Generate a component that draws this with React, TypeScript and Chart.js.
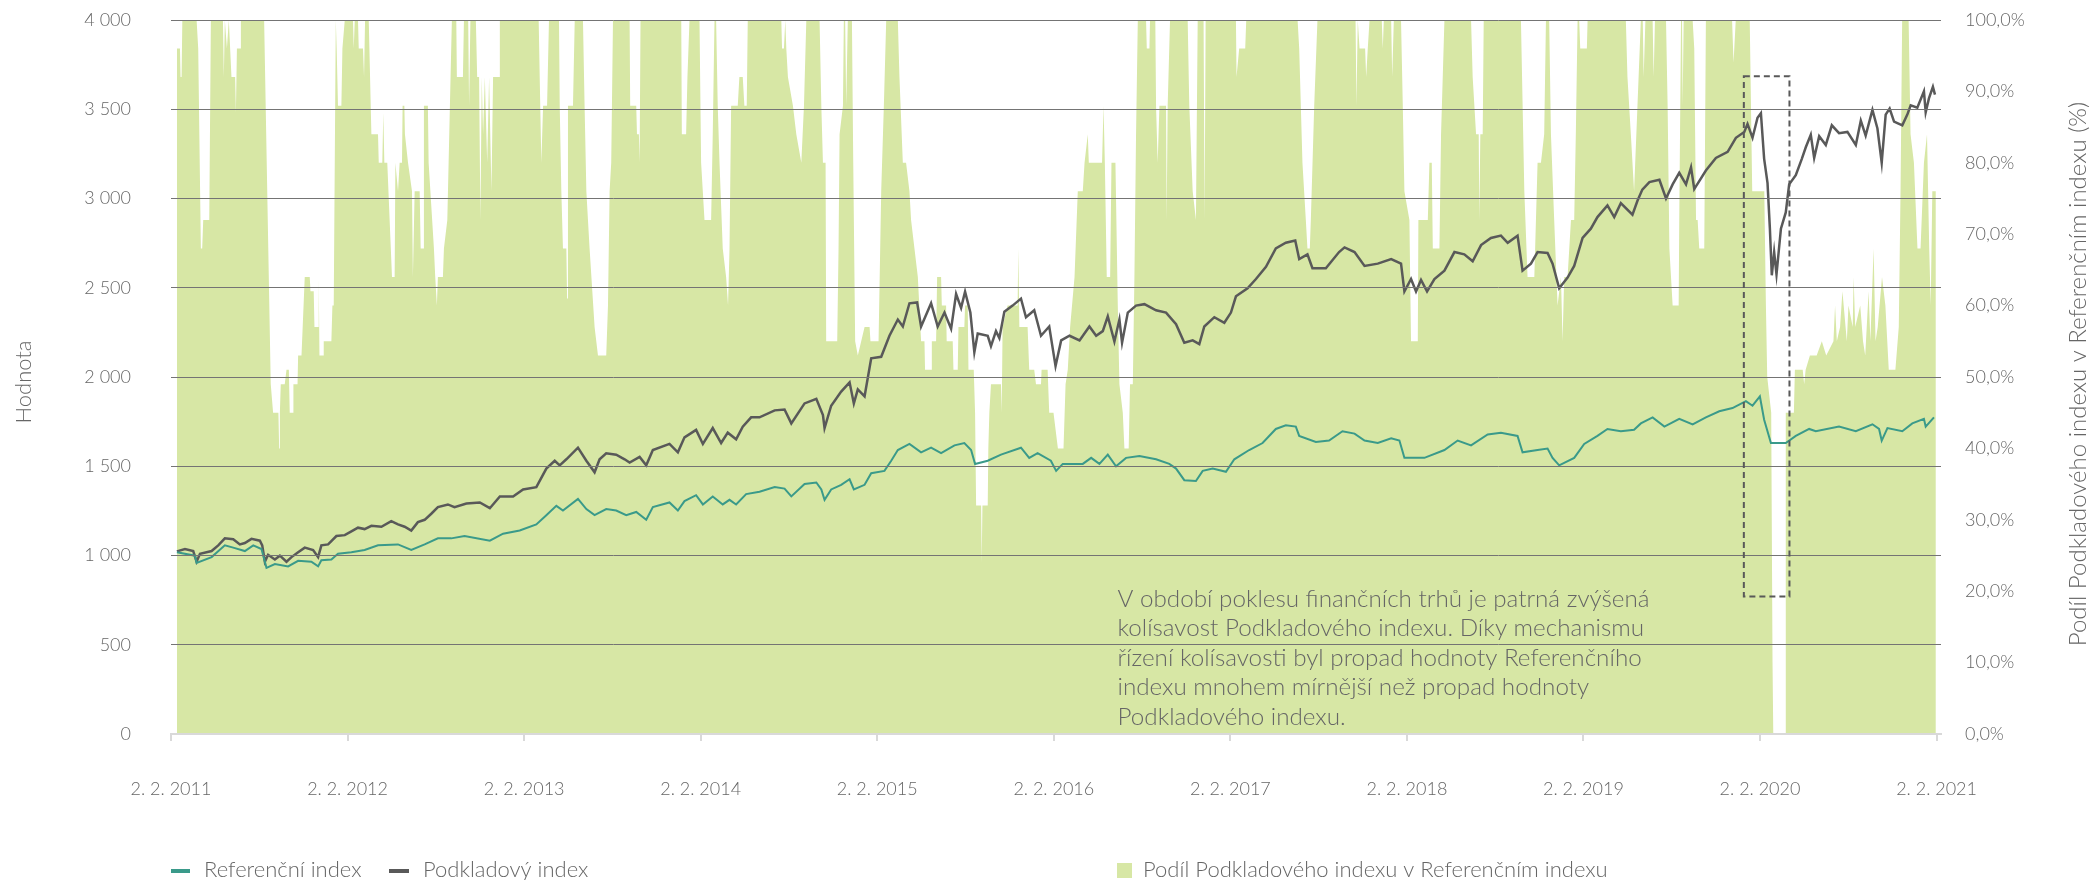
import React, { useEffect, useRef } from "react";
import { Chart, registerables } from "chart.js";

Chart.register(...registerables);

const FONT = "Lato, 'Open Sans', 'DejaVu Sans', sans-serif";
const TEXT = "#666666";
const GREEN = "#d7e7a5";
const TEAL = "#3a9a8a";
const DARK = "#595959";
const GRID = "#747474";
const AXIS = "#d9d9d9";

// x axis: months since 2. 2. 2011
const xTickMonths = [0, 12, 24, 36, 48, 60, 72, 84, 96, 108, 120];
const xTickLabels = [
  "2. 2. 2011", "2. 2. 2012", "2. 2. 2013", "2. 2. 2014", "2. 2. 2015", "2. 2. 2016",
  "2. 2. 2017", "2. 2. 2018", "2. 2. 2019", "2. 2. 2020", "2. 2. 2021",
];

const seriesNames = ["Referenční index", "Podkladový index", "Podíl Podkladového indexu v Referenčním indexu"];
const leftTitle = "Hodnota";
const rightTitle = "Podíl Podkladového indexu v Referenčním indexu (%)";

// Podkladový index (underlying)
const underlyingMonths = [
  0.4, 0.95, 1.51, 1.74, 1.97, 2.76, 3.21, 3.66, 4.23, 4.68, 5.02, 5.47, 6.04, 6.2, 6.38, 6.6, 7.06, 7.4, 7.85, 8.19,
  8.64, 9.09, 9.66, 10.0, 10.22, 10.68, 11.24, 11.81, 12.26, 12.71, 13.16, 13.62, 14.3, 14.97, 15.43, 15.88, 16.33, 16.78, 17.24, 17.69,
  18.14, 18.82, 19.27,
  20.08, 20.99, 21.67, 22.35, 23.25, 23.93, 24.83, 25.51, 26.08, 26.42, 26.87, 27.66, 28.23, 28.79, 29.13, 29.58, 30.26, 30.83, 31.17, 31.85,
  32.3, 32.75, 33.88, 34.45, 34.9, 35.69, 36.15, 36.82, 37.39, 37.84, 38.41, 38.86, 39.43,
  40.0, 41.03, 41.7, 42.16, 43.06, 43.86, 44.31, 44.42, 44.87, 45.55, 46.12, 46.41, 46.68, 47.14, 47.59, 48.27, 48.83, 49.4, 49.74, 50.19,
  50.71, 50.98, 51.66, 52.11, 52.57, 53.02, 53.36, 53.7, 53.97, 54.33, 54.6, 54.83, 55.51, 55.73, 56.07, 56.3, 56.64, 57.2, 57.77, 58.11,
  58.67, 59.13, 59.69,
  60.12, 60.5, 61.07, 61.75, 62.42, 62.88, 63.33, 63.67, 64.12, 64.46, 64.64, 65.03, 65.59, 66.16, 66.95, 67.63, 68.31, 68.87, 69.44, 69.89,
  70.23, 70.91, 71.59, 72.04, 72.38, 73.17, 73.74, 74.42, 75.09, 75.77, 76.41, 76.68, 77.24, 77.58, 78.49, 79.39,
  79.76, 80.44, 81.12, 82.02, 82.93, 83.6, 83.83, 84.28, 84.62, 84.96, 85.37, 85.87, 86.55, 87.23, 87.9, 88.47, 89.04, 89.71, 90.39, 90.85,
  91.52, 91.86, 92.43, 92.88, 93.56, 93.9, 94.35, 94.92, 95.37, 95.94, 96.5, 96.95, 97.63, 98.09, 98.54, 99.33, 99.67,
  100.0, 100.48, 101.16, 101.61, 102.06, 102.51, 102.97, 103.31, 103.53, 104.32, 105.0, 105.8, 106.36, 106.93, 107.15, 107.49, 107.83, 108.06, 108.28, 108.51,
  108.67, 108.8, 108.96, 109.12, 109.42, 109.75, 109.98, 110.43, 110.84, 111.11, 111.45, 111.68, 112.02, 112.47, 112.88, 113.37, 113.94, 114.51, 114.85, 115.18,
  115.64, 115.98, 116.27, 116.54, 116.81, 117.11, 117.67, 118.01, 118.24, 118.69, 119.14, 119.26, 119.48, 119.75, 119.89,
];
const underlyingValues = [
  1023, 1036, 1025, 965, 1010, 1025, 1057, 1096, 1091, 1062, 1070, 1093, 1083, 1057, 965, 1004, 978, 999, 965, 991,
  1018, 1044, 1031, 991, 1057, 1062, 1109, 1114, 1135, 1156, 1148, 1166, 1161, 1192, 1174, 1161, 1140, 1187, 1200, 1234,
  1271, 1286, 1271,
  1291, 1297, 1265, 1331, 1331, 1370, 1383, 1487, 1531, 1505, 1539, 1604, 1531, 1466, 1539, 1573, 1565, 1539, 1521, 1552,
  1505, 1591, 1625, 1578, 1662, 1704, 1625, 1714, 1630, 1688, 1651, 1722, 1774,
  1774, 1813, 1818, 1740, 1852, 1878, 1787, 1714, 1839, 1918, 1970, 1852, 1931, 1892, 2105, 2113, 2231, 2322, 2283, 2413,
  2418, 2283, 2413, 2283, 2361, 2270, 2465, 2387, 2478, 2361, 2139, 2244, 2231, 2173, 2257, 2218, 2366, 2400, 2439, 2335,
  2374, 2231, 2283,
  2061, 2205, 2231, 2205, 2283, 2231, 2257, 2340, 2199, 2322, 2192, 2361, 2400, 2408, 2374, 2361, 2296, 2192, 2205, 2184,
  2283, 2335, 2304, 2361, 2452, 2497, 2549, 2617, 2721, 2752, 2765, 2661, 2687, 2609, 2609, 2700,
  2726, 2700, 2622, 2635, 2661, 2635, 2479, 2549, 2479, 2544, 2479, 2549, 2596, 2700, 2687, 2648, 2739, 2779, 2792, 2752,
  2792, 2596, 2635, 2700, 2695, 2635, 2497, 2557, 2622, 2779, 2831, 2896, 2961, 2896, 2974, 2909, 2987,
  3050, 3092, 3105, 3000, 3079, 3144, 3079, 3175, 3053, 3157, 3227, 3261, 3340, 3373, 3418, 3340, 3452, 3478, 3222, 3086,
  2831, 2570, 2700, 2575, 2831, 2922, 3079, 3131, 3222, 3287, 3357, 3227, 3349, 3300, 3410, 3366, 3373, 3300, 3436, 3352,
  3496, 3392, 3201, 3470, 3504, 3431, 3410, 3470, 3522, 3509, 3600, 3483, 3561, 3626, 3582,
];

// Referenční index (reference)
const referenceMonths = [
  0.4, 1.63, 1.74, 2.76, 3.66, 4.23, 5.02, 5.59, 6.15, 6.49, 7.06, 7.96, 8.64, 9.54, 10.0, 10.22, 10.9, 11.35, 12.26, 13.16,
  14.07, 15.43, 16.33, 17.24, 18.14, 19.05, 19.95,
  21.67, 22.57, 23.7, 24.83, 25.51, 26.19, 26.64, 27.66, 28.23, 28.79, 29.58, 30.26, 30.94, 31.62, 32.3, 32.75, 33.88, 34.45, 34.9, 35.69,
  36.15, 36.82, 37.5, 37.96, 38.41, 39.09, 40.0,
  41.03, 41.7, 42.16, 43.06, 43.86, 44.2, 44.42, 44.87, 45.55, 46.12, 46.41, 47.14, 47.59, 48.49, 48.95, 49.4, 50.19, 50.98, 51.66, 52.34,
  53.25, 53.92, 54.38, 54.65, 55.51, 56.41, 57.77, 58.33, 58.9, 59.8,
  60.16, 60.61, 61.97, 62.54, 63.1, 63.67, 64.23, 64.91, 65.82, 66.95, 67.85, 68.31, 68.87, 69.66, 70.12, 70.8, 71.7, 72.27, 73.28, 74.19,
  75.09, 75.77, 76.45, 76.68, 77.81, 78.71, 79.62,
  80.44, 81.12, 82.02, 82.93, 83.49, 83.83, 85.19, 86.55, 87.45, 88.36, 89.49, 90.39, 91.52, 91.86, 92.88, 93.56, 93.9, 94.35, 95.37, 96.05,
  96.95, 97.63, 98.54, 99.44,
  99.9, 100.7, 101.5, 102.51, 103.42, 104.32, 105.23, 106.13, 107.04, 107.49, 107.99, 108.28, 108.74, 109.75, 110.43, 111.34, 111.79, 113.37, 114.51, 115.64,
  116.09, 116.27, 116.66, 117.67, 118.35, 119.14, 119.26, 119.82,
];
const referenceValues = [
  1018, 999, 958, 991, 1057, 1044, 1025, 1057, 1036, 931, 952, 939, 970, 965, 939, 973, 978, 1010, 1018, 1031,
  1057, 1062, 1031, 1062, 1096, 1096, 1109,
  1083, 1122, 1140, 1174, 1226, 1278, 1252, 1317, 1260, 1226, 1260, 1252, 1226, 1244, 1200, 1271, 1297, 1252, 1305, 1338,
  1286, 1331, 1286, 1312, 1286, 1344, 1357,
  1383, 1375, 1331, 1401, 1409, 1370, 1312, 1370, 1396, 1427, 1370, 1396, 1461, 1474, 1531, 1591, 1625, 1578, 1604, 1573,
  1617, 1630, 1591, 1513, 1531, 1565, 1604, 1547, 1573, 1531,
  1474, 1513, 1513, 1547, 1513, 1565, 1500, 1547, 1557, 1539, 1513, 1487, 1422, 1417, 1474, 1487, 1469, 1539, 1591, 1630,
  1709, 1730, 1722, 1670, 1636, 1644, 1696,
  1683, 1644, 1630, 1657, 1644, 1547, 1547, 1591, 1644, 1617, 1678, 1688, 1670, 1578, 1591, 1599, 1547, 1505, 1547, 1625,
  1670, 1709, 1696, 1704,
  1740, 1774, 1722, 1766, 1735, 1774, 1808, 1826, 1865, 1839, 1891, 1761, 1630, 1630, 1670, 1709, 1696, 1722, 1696, 1735,
  1709, 1644, 1714, 1696, 1740, 1766, 1722, 1774,
];

// Podíl Podkladového indexu v Referenčním indexu: [month, percent]
const shareBreakpoints: [number, number][] = [
  [0.4, 96], [0.61, 96], [0.65, 92], [0.72, 92], [0.77, 100], [1.74, 100], [1.85, 96], [2.03, 68], [2.12, 68], [2.19, 72],
  [2.6, 72], [2.71, 100], [3.53, 100], [3.59, 92], [3.66, 100], [3.8, 96], [3.93, 100], [4.11, 92], [4.36, 92], [4.41, 87],
  [4.48, 96], [4.7, 96], [4.75, 100], [6.33, 100], [6.78, 49], [6.94, 45], [7.3, 45], [7.35, 40], [7.4, 45], [7.46, 49],
  [7.73, 49], [7.85, 51], [8.01, 51], [8.07, 45], [8.3, 45], [8.32, 49], [8.6, 49], [8.64, 53], [8.87, 53], [9.09, 64],
  [9.43, 64], [9.48, 62], [9.7, 62], [9.75, 57], [10.0, 57], [10.04, 64], [10.09, 53], [10.34, 53], [10.38, 55], [10.9, 55],
  [10.97, 60], [11.06, 60], [11.2, 100], [11.26, 96], [11.35, 88], [11.58, 88], [11.65, 96], [11.81, 100], [12.37, 100], [12.42, 96],
  [12.49, 100], [12.71, 100], [12.76, 96], [13.05, 96], [13.12, 92], [13.19, 100], [13.44, 100], [13.62, 84], [14.07, 84], [14.12, 80],
  [14.36, 80], [14.43, 87], [14.5, 80], [14.7, 80], [15.02, 64], [15.2, 64], [15.25, 80], [15.43, 76], [15.54, 80], [15.7, 80],
  [15.74, 88], [15.86, 88], [15.9, 84], [16.11, 80], [16.38, 76], [16.44, 64], [16.56, 76], [16.9, 76], [16.97, 68], [17.15, 68],
  [17.19, 88], [17.46, 88], [17.51, 80], [17.87, 68], [17.96, 64], [18.07, 60], [18.14, 64], [18.48, 64], [18.55, 68], [18.78, 72],
  [19.0, 92], [19.09, 100], [19.39, 100], [19.43, 92], [19.84, 92], [19.91, 100],
  [20.2, 100], [20.26, 88], [20.35, 100], [20.72, 100], [20.81, 92], [20.94, 92], [21.03, 72], [21.12, 92], [21.21, 84], [21.33, 92],
  [21.49, 80], [21.62, 92], [21.78, 76], [21.89, 92], [22.3, 92], [22.35, 100], [24.99, 100], [25.06, 92], [25.17, 80], [25.29, 88],
  [25.56, 88], [25.69, 100], [26.37, 100], [26.42, 88], [26.53, 76], [26.64, 68], [26.87, 68], [26.92, 61], [26.98, 88], [27.32, 88],
  [27.44, 100], [28.0, 100], [28.11, 88], [28.23, 76], [28.34, 72], [28.45, 68], [28.79, 57], [29.02, 53], [29.58, 53], [29.7, 60],
  [29.81, 76], [29.92, 80], [30.04, 100], [31.17, 100], [31.21, 88], [31.62, 88], [31.67, 84], [31.8, 84], [31.85, 80], [31.91, 100],
  [34.68, 100], [34.72, 84], [35.01, 84], [35.1, 92], [35.24, 100], [35.92, 100], [36.03, 80], [36.26, 72], [36.71, 72], [36.82, 84],
  [36.94, 100], [37.05, 100], [37.16, 88], [37.28, 80], [37.5, 68], [37.73, 64], [37.86, 60], [37.96, 68], [38.07, 88], [38.52, 88],
  [38.63, 92], [38.86, 92], [38.97, 88], [39.13, 88], [39.2, 100],
  [41.48, 100], [41.53, 96], [41.66, 96], [41.75, 100], [41.82, 96], [41.93, 92], [42.27, 88], [42.5, 84], [42.84, 80], [43.02, 88],
  [43.18, 100], [44.08, 100], [44.2, 88], [44.31, 80], [44.49, 80], [44.53, 55], [45.28, 55], [45.37, 68], [45.44, 84], [45.67, 88],
  [45.73, 100], [45.82, 100], [45.89, 88], [46.0, 100], [46.28, 100], [46.37, 80], [46.5, 55], [46.68, 53], [46.91, 55], [47.14, 57],
  [47.48, 57], [47.54, 55], [48.09, 55], [48.27, 76], [48.45, 88], [48.61, 100], [49.4, 100], [49.51, 92], [49.74, 80], [49.96, 80],
  [50.19, 76], [50.3, 72], [50.53, 68], [50.76, 64], [50.98, 55], [51.21, 55], [51.25, 51], [51.66, 51], [51.71, 55], [52.0, 55],
  [52.07, 64], [52.34, 64], [52.39, 60], [52.68, 60], [52.72, 55], [53.13, 55], [53.18, 51], [53.47, 51], [53.52, 57], [53.92, 57],
  [53.97, 60], [54.15, 60], [54.2, 51], [54.56, 51], [54.65, 45], [54.72, 32], [55.06, 32], [55.1, 24], [55.15, 32], [55.51, 32],
  [55.55, 40], [55.62, 45], [55.73, 49], [56.41, 49], [56.46, 45], [56.52, 57], [56.86, 60], [57.54, 60], [57.59, 68], [57.66, 57],
  [58.22, 57], [58.33, 51], [58.67, 51], [58.79, 49], [59.13, 49], [59.17, 51], [59.58, 51], [59.69, 45],
  [59.98, 45], [60.28, 40], [60.66, 40], [60.8, 49], [60.95, 51], [61.11, 57], [61.41, 64], [61.63, 76], [61.97, 76], [62.09, 80],
  [62.31, 84], [62.38, 80], [63.28, 80], [63.38, 88], [63.47, 80], [63.6, 64], [63.83, 64], [63.92, 80], [64.19, 80], [64.35, 60],
  [64.46, 49], [64.69, 45], [64.8, 40], [65.09, 40], [65.18, 49], [65.37, 49], [65.48, 64], [65.59, 84], [65.71, 100], [66.27, 100],
  [66.32, 96], [66.5, 96], [66.54, 100], [66.9, 100], [66.95, 88], [67.06, 80], [67.18, 88], [67.63, 88], [67.67, 72], [67.74, 88],
  [67.9, 100], [69.1, 100], [69.21, 88], [69.44, 76], [69.66, 72], [69.78, 100], [70.18, 100], [70.25, 72], [70.32, 100], [72.38, 100],
  [72.42, 92], [72.6, 96], [73.01, 96], [73.08, 100], [76.57, 100], [76.68, 96], [76.9, 80], [77.13, 72], [77.24, 68], [77.4, 68],
  [77.47, 72], [77.7, 88], [77.92, 100],
  [80.51, 100], [80.57, 88], [80.66, 100], [80.78, 96], [81.16, 96], [81.23, 92], [81.34, 96], [81.46, 100], [82.29, 100], [82.36, 96],
  [82.43, 100], [82.93, 100], [83.0, 92], [83.11, 100], [83.6, 100], [83.72, 88], [83.83, 76], [84.17, 72], [84.28, 55], [84.74, 55],
  [84.78, 72], [85.42, 72], [85.53, 80], [85.69, 80], [85.76, 68], [86.21, 68], [86.32, 84], [86.55, 100], [88.36, 100], [88.47, 92],
  [88.7, 84], [88.88, 84], [88.92, 72], [88.99, 84], [89.15, 84], [89.22, 100], [91.75, 100], [91.98, 76], [92.2, 64], [92.66, 64],
  [92.77, 72], [92.88, 80], [93.11, 80], [93.33, 84], [93.45, 100], [93.67, 100], [93.79, 84], [94.01, 72], [94.24, 60], [94.47, 64],
  [94.58, 55], [94.69, 64], [94.92, 64], [95.15, 72], [95.37, 72], [95.48, 84], [95.6, 100], [95.71, 100], [95.78, 96], [96.23, 96],
  [96.28, 100], [98.88, 100], [98.99, 92], [99.22, 84], [99.44, 76], [99.67, 88], [99.9, 100],
  [100.03, 100], [100.09, 92], [100.21, 100], [100.7, 100], [100.77, 92], [100.86, 100], [101.61, 100], [101.72, 88], [101.84, 68], [102.06, 60],
  [102.47, 60], [102.51, 72], [102.63, 100], [102.7, 100], [102.74, 88], [102.81, 100], [103.42, 100], [103.53, 96], [103.65, 72], [103.76, 72],
  [103.87, 68], [104.21, 68], [104.32, 100], [106.1, 100], [106.2, 94], [106.35, 100], [107.3, 100], [107.47, 76], [108.29, 76], [108.4, 60],
  [108.49, 50], [108.76, 45], [108.85, 10], [108.9, 0], [109.72, 0], [109.75, 45], [110.3, 45], [110.37, 51], [110.9, 51], [111.0, 49],
  [111.1, 51], [111.39, 53], [111.85, 53], [112.2, 55], [112.5, 53], [112.99, 55], [113.1, 60], [113.22, 55], [113.44, 57], [113.6, 62],
  [113.9, 55], [114.01, 60], [114.3, 57], [114.36, 64], [114.47, 57], [114.81, 60], [115.0, 55], [115.15, 53], [115.38, 62], [115.5, 55],
  [115.72, 68], [115.85, 55], [116.0, 57], [116.29, 64], [116.52, 60], [116.75, 51], [117.2, 51], [117.43, 57], [117.55, 76], [117.66, 100],
  [118.1, 100], [118.23, 84], [118.46, 80], [118.7, 68], [118.91, 68], [119.14, 80], [119.35, 84], [119.5, 68], [119.6, 60], [119.71, 76],
  [119.95, 76],
];

// annotation content (data coordinates)
const highlightBox = { fromMonth: 106.9, toMonth: 110.0, topValue: 3685, bottomValue: 770 };
const noteAnchor = { month: 64.33, value: 757 };
const noteLines = [
  "V období poklesu finančních trhů je patrná zvýšená",
  "kolísavost Podkladového indexu. Díky mechanismu",
  "řízení kolísavosti byl propad hodnoty Referenčního",
  "indexu mnohem mírnější než propad hodnoty",
  "Podkladového indexu.",
];
const NOTE_FIRST_LINE_WIDTH = 532;

const fmtLeft = (v: number) =>
  v >= 1000 ? `${Math.floor(v / 1000)} ${String(v % 1000).padStart(3, "0")}` : `${v}`;
const fmtRight = (v: number) => `${v.toFixed(1).replace(".", ",")}%`;

const overlayPlugin = {
  id: "overlay",
  afterDraw(chart: any) {
    const { ctx, scales } = chart;
    const xs = scales.x;
    const ys = scales.y;
    ctx.save();

    // dashed highlight rectangle
    const bx0 = xs.getPixelForValue(highlightBox.fromMonth);
    const bx1 = xs.getPixelForValue(highlightBox.toMonth);
    const by0 = ys.getPixelForValue(highlightBox.topValue);
    const by1 = ys.getPixelForValue(highlightBox.bottomValue);
    ctx.strokeStyle = DARK;
    ctx.lineWidth = 2;
    ctx.setLineDash([6, 4]);
    ctx.strokeRect(bx0, by0, bx1 - bx0, by1 - by0);
    ctx.setLineDash([]);

    // annotation text (wide face emulated by horizontal stretch)
    ctx.fillStyle = TEXT;
    ctx.font = `300 24px ${FONT}`;
    ctx.textAlign = "left";
    ctx.textBaseline = "middle";
    const tx = xs.getPixelForValue(noteAnchor.month);
    const ty = ys.getPixelForValue(noteAnchor.value);
    const w0 = ctx.measureText(noteLines[0]).width || NOTE_FIRST_LINE_WIDTH;
    const sx = NOTE_FIRST_LINE_WIDTH / w0;
    ctx.save();
    ctx.translate(tx, ty);
    ctx.scale(sx, 1);
    noteLines.forEach((line, i) => ctx.fillText(line, 0, i * 29.5));
    ctx.restore();

    // axis titles
    ctx.font = `300 22px ${FONT}`;
    ctx.textAlign = "center";
    ctx.save();
    ctx.translate(24, 382);
    ctx.rotate(-Math.PI / 2);
    ctx.fillText(leftTitle, 0, 0);
    ctx.restore();
    ctx.save();
    ctx.font = `300 24px ${FONT}`;
    ctx.translate(2078, 374);
    ctx.rotate(-Math.PI / 2);
    ctx.fillText(rightTitle, 0, 0);
    ctx.restore();

    // legend
    ctx.font = `300 22px ${FONT}`;
    ctx.textAlign = "left";
    ctx.fillStyle = TEAL;
    ctx.fillRect(171, 869, 19, 4);
    ctx.fillStyle = DARK;
    ctx.fillRect(389, 869, 20, 4);
    ctx.fillStyle = GREEN;
    ctx.fillRect(1117, 863, 15, 15);
    ctx.fillStyle = TEXT;
    ctx.fillText(seriesNames[0], 204, 870);
    ctx.fillText(seriesNames[1], 423, 870);
    ctx.fillText(seriesNames[2], 1143, 870);

    ctx.restore();
  },
};

export default function App() {
  const ref = useRef<HTMLCanvasElement>(null);

  useEffect(() => {
    const canvas = ref.current;
    if (!canvas) return;

    const underlying = underlyingMonths
      .slice(0, Math.min(underlyingMonths.length, underlyingValues.length))
      .map((m, i) => ({ x: m, y: underlyingValues[i] }));
    const reference = referenceMonths
      .slice(0, Math.min(referenceMonths.length, referenceValues.length))
      .map((m, i) => ({ x: m, y: referenceValues[i] }));
    const share = shareBreakpoints.map(([m, v]) => ({ x: m, y: v }));

    const tickFont = { family: FONT, size: 18, weight: "300" as any };

    const chart = new Chart(canvas, {
      type: "line",
      data: {
        datasets: [
          {
            label: seriesNames[0],
            data: reference,
            yAxisID: "y",
            borderColor: TEAL,
            borderWidth: 2,
            pointRadius: 0,
            fill: false,
            tension: 0,
            order: 1,
          },
          {
            label: seriesNames[1],
            data: underlying,
            yAxisID: "y",
            borderColor: DARK,
            borderWidth: 2.5,
            pointRadius: 0,
            fill: false,
            tension: 0,
            order: 2,
          },
          {
            label: seriesNames[2],
            data: share,
            yAxisID: "y1",
            borderWidth: 0,
            borderColor: "rgba(0,0,0,0)",
            backgroundColor: GREEN,
            pointRadius: 0,
            fill: "origin",
            tension: 0,
            order: 10,
          },
        ],
      },
      options: {
        animation: false,
        responsive: false,
        devicePixelRatio: 1,
        layout: { padding: { top: 20, left: 0, right: 0, bottom: 0 } },
        plugins: { legend: { display: false }, tooltip: { enabled: false } },
        scales: {
          x: {
            type: "linear",
            min: 0,
            max: 120.3,
            afterBuildTicks: (axis: any) => {
              axis.ticks = xTickMonths.map((v) => ({ value: v }));
            },
            afterFit: (axis: any) => {
              axis.height = 146;
              axis.paddingLeft = 0;
              axis.paddingRight = 0;
            },
            grid: { drawOnChartArea: false, drawTicks: true, tickLength: 7, color: AXIS, lineWidth: 2 },
            border: { display: true, color: AXIS, width: 2, z: 1 },
            ticks: {
              autoSkip: false,
              maxRotation: 0,
              minRotation: 0,
              padding: 37,
              color: TEXT,
              font: tickFont,
              callback: (_v: any, i: number) => xTickLabels[i],
            },
          },
          y: {
            position: "left",
            min: 0,
            max: 4000,
            afterFit: (axis: any) => {
              axis.width = 171;
              axis.paddingTop = 0;
              axis.paddingBottom = 0;
            },
            grid: {
              z: 1,
              drawTicks: false,
              lineWidth: 1,
              color: (c: any) => (c.tick && c.tick.value === 0 ? "rgba(0,0,0,0)" : GRID),
            },
            border: { display: false },
            ticks: { stepSize: 500, padding: 40, color: TEXT, font: tickFont, callback: (v: any) => fmtLeft(Number(v)) },
          },
          y1: {
            position: "right",
            min: 0,
            max: 100,
            afterFit: (axis: any) => {
              axis.width = 151;
              axis.paddingTop = 0;
              axis.paddingBottom = 0;
            },
            grid: { display: false, drawTicks: false, drawOnChartArea: false },
            border: { display: false },
            ticks: { stepSize: 10, padding: 24, color: TEXT, font: tickFont, callback: (v: any) => fmtRight(Number(v)) },
          },
        },
      },
      plugins: [overlayPlugin],
    } as any);

    return () => chart.destroy();
  }, []);

  return (
    <div style={{ position: "fixed", left: 0, top: 0, width: 2092, height: 880, background: "#ffffff" }}>
      <canvas ref={ref} width={2092} height={880} style={{ display: "block", width: 2092, height: 880 }} />
    </div>
  );
}
